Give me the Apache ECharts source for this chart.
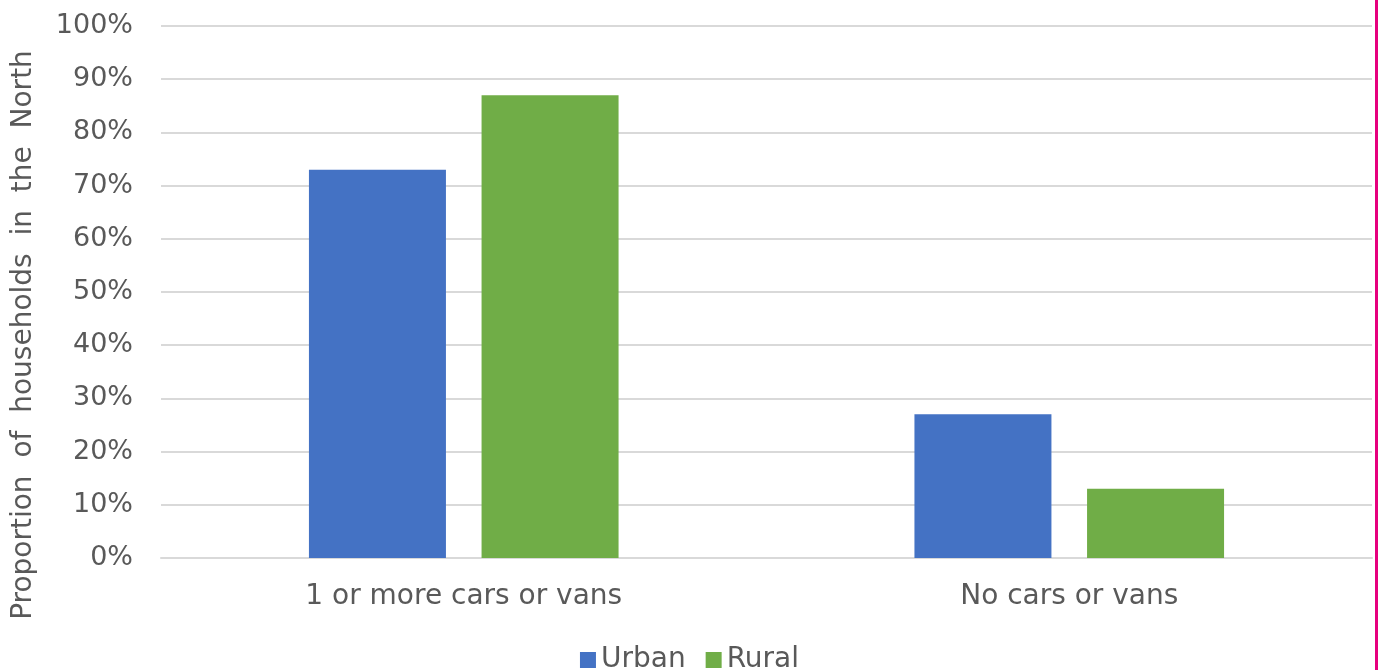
<!DOCTYPE html>
<html>
<head>
<meta charset="utf-8">
<script src="https://cdn.jsdelivr.net/npm/echarts@6/dist/echarts.min.js"></script>
<style>
  html, body { margin: 0; padding: 0; background: #fff; }
  #chart { width: 1379px; height: 670px; }
</style>
</head>
<body>
<div id="chart"></div>
<script>
// categories and values (percent of households)
var categories = ["1 or more cars or vans", "No cars or vans"];
var urbanData = [73, 27];
var ruralData = [87, 13];
var yTicks = [0, 100, 10]; // min, max, step

var myChart = echarts.init(document.getElementById("chart"));

var labelColor = "#595959";
var gridColor = "#d9d9d9";

var option = {
  color: ["#4472C4", "#70AD47"],
  textStyle: { fontFamily: "DejaVu Sans" },
  grid: {
    left: 161,
    right: 7,
    top: 26,
    bottom: 112,
  },
  legend: {
    left: "center",
    top: 641,
    itemWidth: 16,
    itemHeight: 16,
    itemGap: 20,
    icon: "rect",
    textStyle: { color: labelColor, fontSize: 28, fontFamily: "DejaVu Sans" },
    data: ["Urban", "Rural"],
  },
  xAxis: {
    type: "category",
    data: categories,
    axisTick: { show: false },
    axisLine: { show: true, lineStyle: { color: gridColor, width: 2 } },
    axisLabel: {
      color: labelColor,
      fontSize: 28,
      margin: 25,
      fontFamily: "DejaVu Sans",
    },
  },
  yAxis: {
    type: "value",
    min: yTicks[0],
    max: yTicks[1],
    interval: yTicks[2],
    // double spaces: the reference spreads the words out
    name: "Proportion  of  households  in  the  North",
    nameLocation: "middle",
    nameGap: 123,
    nameTextStyle: {
      color: labelColor,
      fontSize: 28,
      fontFamily: "DejaVu Sans",
      padding: [0, 86, 0, 0],
    },
    axisLine: { show: false },
    axisTick: { show: false },
    axisLabel: {
      color: labelColor,
      fontSize: 27,
      margin: 28,
      fontFamily: "DejaVu Sans",
      formatter: "{value}%",
    },
    splitLine: { show: true, lineStyle: { color: gridColor, width: 2 } },
  },
  series: [
    {
      name: "Urban",
      type: "bar",
      barWidth: 137,
      barGap: "26%",
      data: urbanData,
    },
    {
      name: "Rural",
      type: "bar",
      barWidth: 137,
      barGap: "26%",
      data: ruralData,
    },
  ],
  graphic: [
    {
      type: "rect",
      right: 1,
      top: 0,
      shape: { width: 3, height: 670 },
      style: { fill: "#E6007E" },
    },
  ],
};

myChart.setOption(option);
window.addEventListener("resize", function () {
  if (myChart) myChart.resize();
});
</script>
</body>
</html>
